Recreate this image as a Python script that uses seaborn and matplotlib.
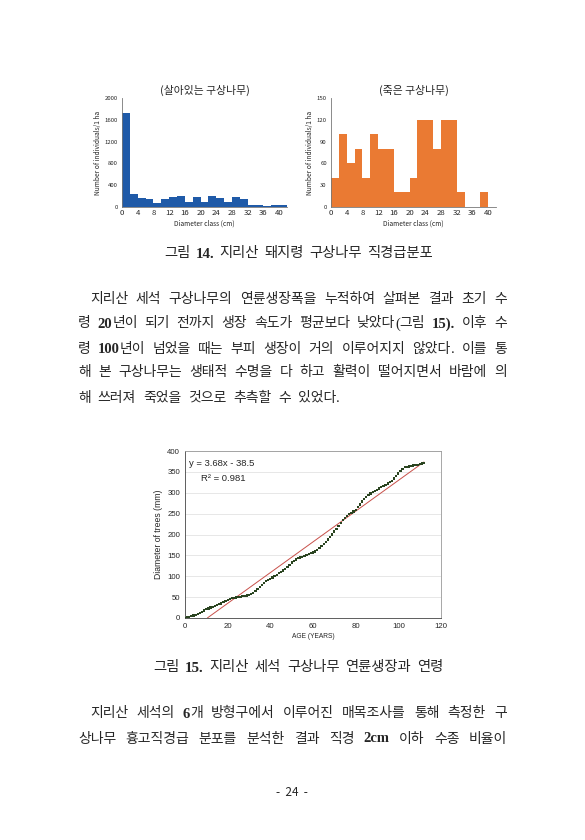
import re
import matplotlib
matplotlib.use("Agg")
import matplotlib.pyplot as plt
import numpy as np
import pandas as pd
import seaborn as sns

sns.set_style("white")
plt.rcParams['font.family'] = ['Noto Sans CJK KR', 'DejaVu Sans']

# 그림 14 data (2 cm diameter classes)
live_class = [0, 2, 4, 6, 8, 10, 12, 14, 16, 18, 20, 22, 24, 26, 28, 30, 32, 34, 36, 38, 40]
live_count = [1720, 240, 160, 140, 80, 140, 180, 200, 100, 180, 100, 200, 160, 100, 180, 140, 40, 40, 20, 40, 40]
dead_class = [0, 2, 4, 6, 8, 10, 12, 14, 16, 18, 20, 22, 24, 26, 28, 30, 32, 34, 36, 38]
dead_count = [40, 100, 60, 80, 40, 100, 80, 80, 20, 20, 40, 120, 120, 80, 120, 120, 20, 0, 0, 20]

# 그림 15 data: cumulative diameter by age
age = list(range(0, 113))
diameter = [0, 1, 3, 4, 6, 8, 10, 12, 15, 18, 21, 23, 25, 27, 29, 31, 33, 35, 38, 41,
            43, 45, 47, 48, 49, 50, 51, 52, 53, 54, 55, 57, 60, 64, 69, 74, 79, 84, 88, 91,
            94, 97, 100, 103, 107, 110, 114, 118, 122, 127, 133, 137, 140, 143, 145, 147, 149, 151, 153, 155,
            157, 159, 162, 167, 172, 177, 182, 188, 194, 200, 207, 214, 221, 228, 234, 240, 245, 249, 252, 255,
            258, 265, 272, 279, 285, 290, 294, 298, 301, 304, 307, 310, 313, 316, 319, 322, 325, 329, 334, 340,
            346, 352, 357, 361, 362, 363, 364, 365, 366, 367, 368, 370, 372]
fit_slope = 3.68
fit_intercept = -38.5
fit_r2 = 0.981

W, H = 585, 840
fig = plt.figure(figsize=(W / 100, H / 100), dpi=100)
fig.patch.set_facecolor("white")


def box(x0, y0, x1, y1):
    return [x0 / W, 1 - y1 / H, (x1 - x0) / W, (y1 - y0) / H]


def bar_panel(rect, classes, counts, color, ymax, yticks, xmax, xticks, title):
    ax = fig.add_axes(rect)
    df = pd.DataFrame({"cls": [c + 1 for c in classes], "n": counts})
    sns.histplot(data=df, x="cls", weights="n", binwidth=2, binrange=(0, classes[-1] + 2),
                 color=color, alpha=1, linewidth=0, ax=ax)
    ax.set_xlim(0, xmax)
    ax.set_ylim(0, ymax)
    ax.set_xticks(xticks)
    ax.set_yticks(yticks)
    ax.tick_params(axis="x", labelsize=5.6, length=0, pad=1.5)
    ax.tick_params(axis="y", labelsize=4.3, length=2, width=0.4, color="#888888", pad=1)
    ax.set_xlabel("Diameter class (cm)", fontsize=4.8, labelpad=2)
    ax.set_ylabel("Number of individuals/1 ha", fontsize=4.8, labelpad=2)
    for s in ["top", "right"]:
        ax.spines[s].set_visible(False)
    for s in ["left", "bottom"]:
        ax.spines[s].set_color("#777777")
        ax.spines[s].set_linewidth(0.6)
    ax.set_title(title, fontsize=7.8, pad=3)
    return ax


bar_panel(box(122, 98, 287, 207), live_class, live_count, "#1f5aa8",
          2000, range(0, 2001, 400), 42, range(0, 41, 4), "(살아있는 구상나무)")
bar_panel(box(331, 98, 496, 207), dead_class, dead_count, "#ea7a33",
          150, range(0, 151, 30), 42, range(0, 41, 4), "(죽은 구상나무)")

# 그림 15
ARIAL = ["Liberation Sans", "DejaVu Sans"]
ax = fig.add_axes(box(185, 451, 441, 618))
gdf = pd.DataFrame({"age": age, "diameter": diameter})
sns.scatterplot(data=gdf, x="age", y="diameter", marker="s", s=2.6,
                color="#2a4420", edgecolor="none", ax=ax, zorder=3)
fit_x = np.array([-fit_intercept / fit_slope, age[-1]])
sns.lineplot(x=fit_x, y=fit_slope * fit_x + fit_intercept, color="#c8504a",
             linewidth=0.7, ax=ax, zorder=2)
ax.set_xlim(0, 120)
ax.set_ylim(0, 400)
ax.set_xticks(range(0, 121, 20))
ax.set_yticks(range(0, 401, 50))
ax.yaxis.grid(True, color="#e3e3e3", linewidth=0.6)
ax.tick_params(labelsize=5.6, length=2, width=0.5, color="#888888", pad=1.5)
for lab in ax.get_xticklabels() + ax.get_yticklabels():
    lab.set_family(ARIAL)
ax.set_xlabel("AGE (YEARS)", fontsize=4.8, labelpad=2, family=ARIAL)
ax.set_ylabel("Diameter of trees (mm)", fontsize=6.2, labelpad=3, family=ARIAL)
for s in ax.spines.values():
    s.set_color("#999999")
    s.set_linewidth(0.6)
ax.spines["left"].set_color("#444444")
ax.spines["bottom"].set_color("#444444")
ax.text(2, 370, f"y = {fit_slope:.2f}x - {abs(fit_intercept):.1f}", fontsize=6.8,
        va="center", family=ARIAL)
ax.text(7.5, 333, f"R² = {fit_r2:.3f}", fontsize=6.8, va="center", family=ARIAL)

# page text
renderer = fig.canvas.get_renderer()
FS = 10
SERIF = ["Liberation Serif", "DejaVu Serif"]


def word_parts(word, y, size):
    parts = []
    for seg in re.findall(r"[\x00-\x7f]+|[^\x00-\x7f]+", word):
        if seg.isascii():
            bold = bool(re.search(r"[0-9A-Za-z]", seg))
            t = fig.text(0, 1 - y / H, seg, fontsize=size * 1.05, family=SERIF,
                         weight="bold" if bold else "normal", va="baseline")
        else:
            t = fig.text(0, 1 - y / H, seg, fontsize=size, va="baseline")
        parts.append((t, t.get_window_extent(renderer).width))
    return parts


def put_line(text, x0, x1, y, size=FS):
    y = y + 4.5  # baseline below line centre
    words = [word_parts(w, y, size) for w in text.split(" ")]
    widths = [sum(p[1] for p in w) for w in words]
    gap = (x1 - x0 - sum(widths)) / (len(words) - 1)
    x = x0
    for w, wd in zip(words, widths):
        xx = x
        for t, pw in w:
            t.set_x(xx / W)
            xx += pw
        x += wd + gap


put_line("그림 14. 지리산 돼지령 구상나무 직경급분포", 164, 433, 253, size=10.3)
put_line("지리산 세석 구상나무의 연륜생장폭을 누적하여 살펴본 결과 초기 수", 90, 507, 299)
put_line("령 20년이 되기 전까지 생장 속도가 평균보다 낮았다(그림 15). 이후 수", 78, 507, 323)
put_line("령 100년이 넘었을 때는 부피 생장이 거의 이루어지지 않았다. 이를 통", 78, 507, 348)
put_line("해 본 구상나무는 생태적 수명을 다 하고 활력이 떨어지면서 바람에 의", 78, 507, 372)
put_line("해 쓰러져 죽었을 것으로 추측할 수 있었다.", 78, 340, 397)

put_line("그림 15. 지리산 세석 구상나무 연륜생장과 연령", 153, 443, 667, size=10.3)
put_line("지리산 세석의 6개 방형구에서 이루어진 매목조사를 통해 측정한 구", 90, 507, 713)
put_line("상나무 흉고직경급 분포를 분석한 결과 직경 2cm 이하 수종 비율이", 78, 507, 738)

fig.text(292 / W, 1 - 793 / H, "-  24  -", fontsize=8.5, ha="center", va="center")

fig.savefig("out.png", dpi=100, facecolor="white")
